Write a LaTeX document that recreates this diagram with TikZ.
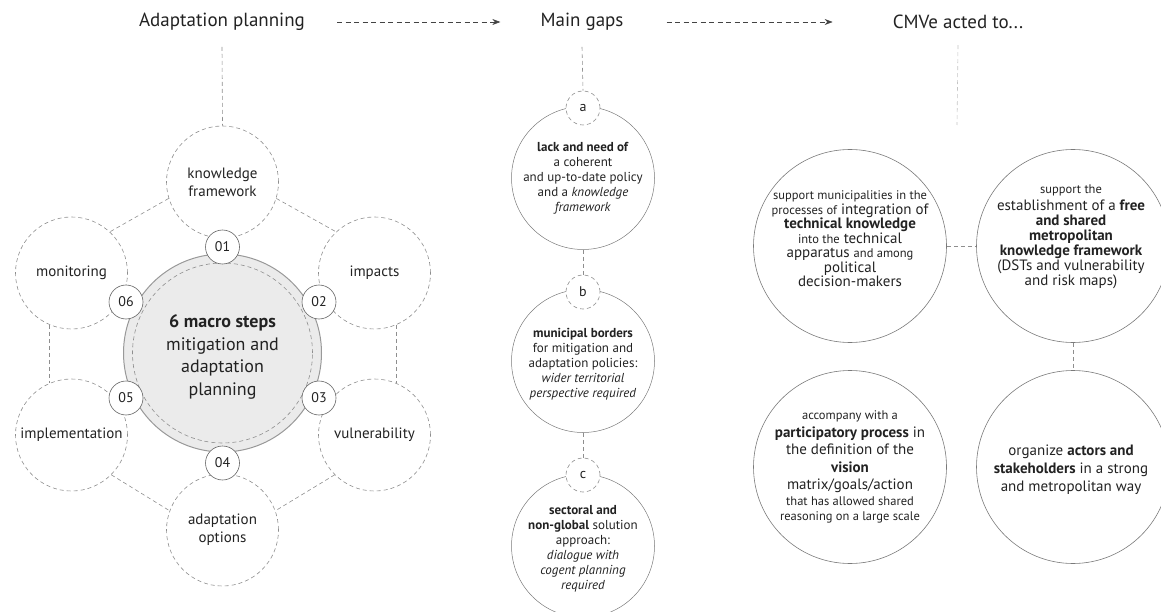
\documentclass[tikz,border=0pt]{standalone}
\usepackage{fontspec}
\setmainfont{PT Sans}
\usetikzlibrary{arrows.meta}
\definecolor{ink}{HTML}{222222}
\definecolor{ln}{HTML}{8E8E8E}
\definecolor{lnl}{HTML}{C4C4C4}
\definecolor{fillg}{HTML}{EBEBEB}
\newcommand\cmsm[1]{{\fontsize{12.5}{13}\selectfont #1}}
\begin{document}
\begin{tikzpicture}[x=1pt,y=-1pt,
  txt/.style={text=ink, align=center, inner sep=0pt},
  dsh/.style={draw=ln, line width=0.6pt, dash pattern=on 4pt off 3pt},
  head/.style={txt, font=\fontsize{19}{22}\selectfont},
  arr/.style={draw=ink!85, line width=0.6pt, dash pattern=on 5pt off 3.5pt, -{Stealth[length=8pt,width=6pt]}},
  ring/.style={circle, minimum size=112pt, inner sep=0pt, dsh, text=ink, align=center, font=\fontsize{15}{18}\selectfont},
  num/.style={circle, minimum size=34pt, inner sep=0pt, fill=white, draw=ink!70, line width=0.6pt, text=ink, font=\fontsize{14}{15}\selectfont},
  letc/.style={circle, minimum size=34pt, inner sep=0pt, fill=white, dsh, text=ink, font=\fontsize{14}{15}\selectfont},
  gap/.style={circle, minimum size=143pt, inner sep=0pt, draw=ink!60, line width=0.5pt},
  gtxt/.style={txt, font=\fontsize{13}{15}\selectfont},
  act/.style={circle, minimum size=193pt, inner sep=0pt, draw=ink!60, line width=0.6pt},
]
\clip (0,0) rectangle (1161,612);
% headers
\node[head] (h1) at (222,22) {Adaptation planning};
\node[head] (h2) at (582,22) {Main gaps};
\node[head] (h3) at (958,22) {CMVe acted to...};
\draw[arr] ([xshift=32pt]h1.east) -- ([xshift=-40pt]h2.west);
\draw[arr] ([xshift=43pt]h2.east) -- ([xshift=-60pt]h3.west);

% ---------- left cluster ----------
\node[ring] (kf) at (222.5,182) {knowledge\\framework};
\node[ring] (mon) at (71.5,273) {monitoring};
\node[ring] (imp) at (374.5,273) {impacts};
\node[ring] (impl) at (71.5,435) {implementation};
\node[ring] (vul) at (374.5,435) {vulnerability};
\node[ring] (ao) at (222.5,530) {adaptation\\options};
\draw[dsh] ([yshift=-16pt]h1.south) -- (kf.north);
\draw[dsh] (kf.197) -- (mon.47);
\draw[dsh] (kf.343) -- (imp.133);
\draw[dsh] (mon.247) -- (impl.113);
\draw[dsh] (imp.293) -- (vul.67);
\draw[dsh] (impl.315) -- (ao.160);
\draw[dsh] (vul.225) -- (ao.20);

\node[circle, minimum size=198pt, inner sep=0pt, fill=fillg, draw=ln!90, line width=1pt] (core) at (222.5,353) {};
\node[circle, minimum size=180pt, inner sep=0pt, dsh] (corein) at (222.5,353) {};
\node[txt, font=\fontsize{18}{22.5}\selectfont] (coretxt) at (222.5,357)
  {\textbf{6 macro steps}\\mitigation and\\adaptation\\planning};

\node[num] (n1) at (222.5,247) {01};
\node[num] (n2) at (319,302) {02};
\node[num] (n3) at (319,398) {03};
\node[num] (n4) at (222.5,463) {04};
\node[num] (n5) at (126,398) {05};
\node[num] (n6) at (126,302) {06};

% ---------- main gaps ----------
\node[gap] (gA) at (583,178) {};
\node[gap] (gB) at (583,361) {};
\node[gap] (gC) at (583,546) {};
\node[letc] (la) at (583,108) {a};
\node[letc] (lb) at (583,292) {b};
\node[letc] (lc) at (583,475) {c};
\draw[dsh] ([yshift=-16pt]h2.south) -- (la.north);
\draw[dsh] (gA.south) -- (lb.north);
\draw[dsh] (gB.south) -- (lc.north);
\node[gtxt] (ta) at (583,178)
  {\textbf{lack and need of}\\a coherent\\and up-to-date policy\\and a \textit{knowledge}\\\textit{framework}};
\node[gtxt] (tb) at (583,364)
  {\textbf{municipal borders}\\for mitigation and\\adaptation policies:\\\textit{wider territorial}\\\textit{perspective required}};
\node[gtxt] (tc) at (583,549)
  {\textbf{sectoral and}\\\textbf{non-global} solution\\approach:\\\textit{dialogue with}\\\textit{cogent planning}\\\textit{required}};

% ---------- CMVe acted to ----------
\coordinate (cend) at (957,125);
\draw[draw=lnl, line width=0.6pt, dash pattern=on 4pt off 3pt] ([yshift=-16pt]h3.south) -- (cend);
\node[act] (r1) at (850,246) {};
\node[act] (r2) at (1073,246) {};
\node[act] (r3) at (850,467) {};
\node[act] (r4) at (1073,467) {};
\draw[dsh] (r1.east) -- (r2.west);
\draw[dsh] (r2.south) -- (r4.north);
\node[txt, font=\fontsize{15}{14.5}\selectfont] (t1) at (850,239)
  {\cmsm{support municipalities in the}\\\cmsm{processes of} integration of\\\textbf{technical knowledge}\\\cmsm{into the} technical\\apparatus \cmsm{and among}\\political\\decision-makers};
\node[txt, font=\fontsize{15}{15}\selectfont] (t2) at (1071,237)
  {\cmsm{support the}\\[1.5pt]establishment of a \textbf{free}\\\textbf{and shared}\\\textbf{metropolitan}\\\textbf{knowledge framework}\\(DSTs and vulnerability\\and risk maps)};
\node[txt, font=\fontsize{15}{17.5}\selectfont] (t3) at (850,467)
  {\cmsm{accompany with a}\\\textbf{participatory process} in\\the definition of the\\\textbf{vision}\\matrix/goals/action\\[-2pt]\cmsm{that has allowed shared}\\[-2.5pt]\cmsm{reasoning on a large scale}};
\node[txt, font=\fontsize{15}{18}\selectfont] (t4) at (1071,470)
  {organize \textbf{actors and}\\\textbf{stakeholders} in a strong\\and metropolitan way};
\end{tikzpicture}
\end{document}
